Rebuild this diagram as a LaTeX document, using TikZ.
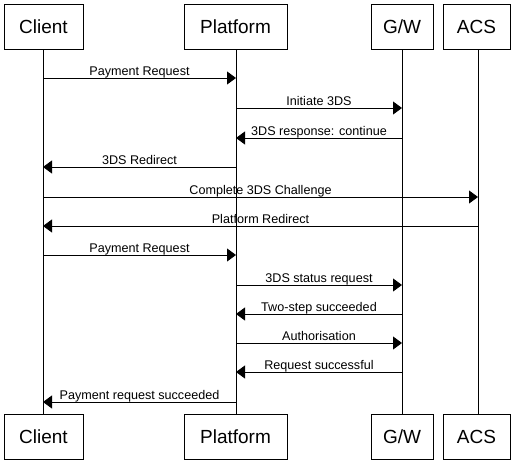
\documentclass[tikz,border=0pt]{standalone}
\usepackage{fontspec}
\setmainfont{Liberation Sans}
\usetikzlibrary{arrows.meta}
\begin{document}
\begin{tikzpicture}[x=1pt,y=-1pt,
  actor/.style={draw,line width=0.8pt,minimum height=45pt,inner sep=0pt,font=\fontsize{19}{22}\selectfont},
  life/.style={line width=0.8pt},
  msg/.style={line width=0.8pt,-{Triangle[length=9pt,width=13pt]}},
  lbl/.style={font=\fontsize{12.6}{15}\selectfont,inner sep=0pt,anchor=base}]
\useasboundingbox (0,0) rectangle (520,463);
% top actors
\node[actor,minimum width=79pt] (c1) at (43.5,26.5) {Client};
\node[actor,minimum width=103pt] (p1) at (235.5,26.5) {Platform};
\node[actor,minimum width=62pt] (g1) at (402,26.5) {G/W};
\node[actor,minimum width=67pt] (a1) at (476.5,26.5) {ACS};
% bottom actors
\node[actor,minimum width=79pt] (c2) at (43.5,436.5) {Client};
\node[actor,minimum width=103pt] (p2) at (235.5,436.5) {Platform};
\node[actor,minimum width=62pt] (g2) at (402,436.5) {G/W};
\node[actor,minimum width=67pt] (a2) at (476.5,436.5) {ACS};
% lifelines
\draw[life] (c1.south -| 43,0) -- (c2.north -| 43,0);
\draw[life] (p1.south -| 236,0) -- (p2.north -| 236,0);
\draw[life] (g1.south -| 402,0) -- (g2.north -| 402,0);
\draw[life] (a1.south -| 478,0) -- (a2.north -| 478,0);
% message endpoints
\foreach \n/\y in {1/78,2/108,3/138,4/167,5/197,6/226,7/255,8/285,9/314,10/343,11/372,12/402}{
  \coordinate (C\n) at (43,\y);
  \coordinate (P\n) at (236,\y);
  \coordinate (G\n) at (402,\y);
  \coordinate (A\n) at (478,\y);
}
\draw[msg] (C1) -- node[lbl,yshift=3pt] (m1) {Payment Request} (P1);
\draw[msg] (P2) -- node[lbl,yshift=3pt] (m2) {Initiate 3DS} (G2);
\draw[msg] (G3) -- node[lbl,yshift=3pt] (m3) {3DS response: continue} (P3);
\draw[msg] (P4) -- node[lbl,yshift=3pt] (m4) {3DS Redirect} (C4);
\draw[msg] (C5) -- node[lbl,yshift=3pt] (m5) {Complete 3DS Challenge} (A5);
\draw[msg] (A6) -- node[lbl,yshift=3pt] (m6) {Platform Redirect} (C6);
\draw[msg] (C7) -- node[lbl,yshift=3pt] (m7) {Payment Request} (P7);
\draw[msg] (P8) -- node[lbl,yshift=3pt] (m8) {3DS status request} (G8);
\draw[msg] (G9) -- node[lbl,yshift=3pt] (m9) {Two-step succeeded} (P9);
\draw[msg] (P10) -- node[lbl,yshift=3pt] (m10) {Authorisation} (G10);
\draw[msg] (G11) -- node[lbl,yshift=3pt] (m11) {Request successful} (P11);
\draw[msg] (P12) -- node[lbl,yshift=3pt] (m12) {Payment request succeeded} (C12);
\end{tikzpicture}
\end{document}
